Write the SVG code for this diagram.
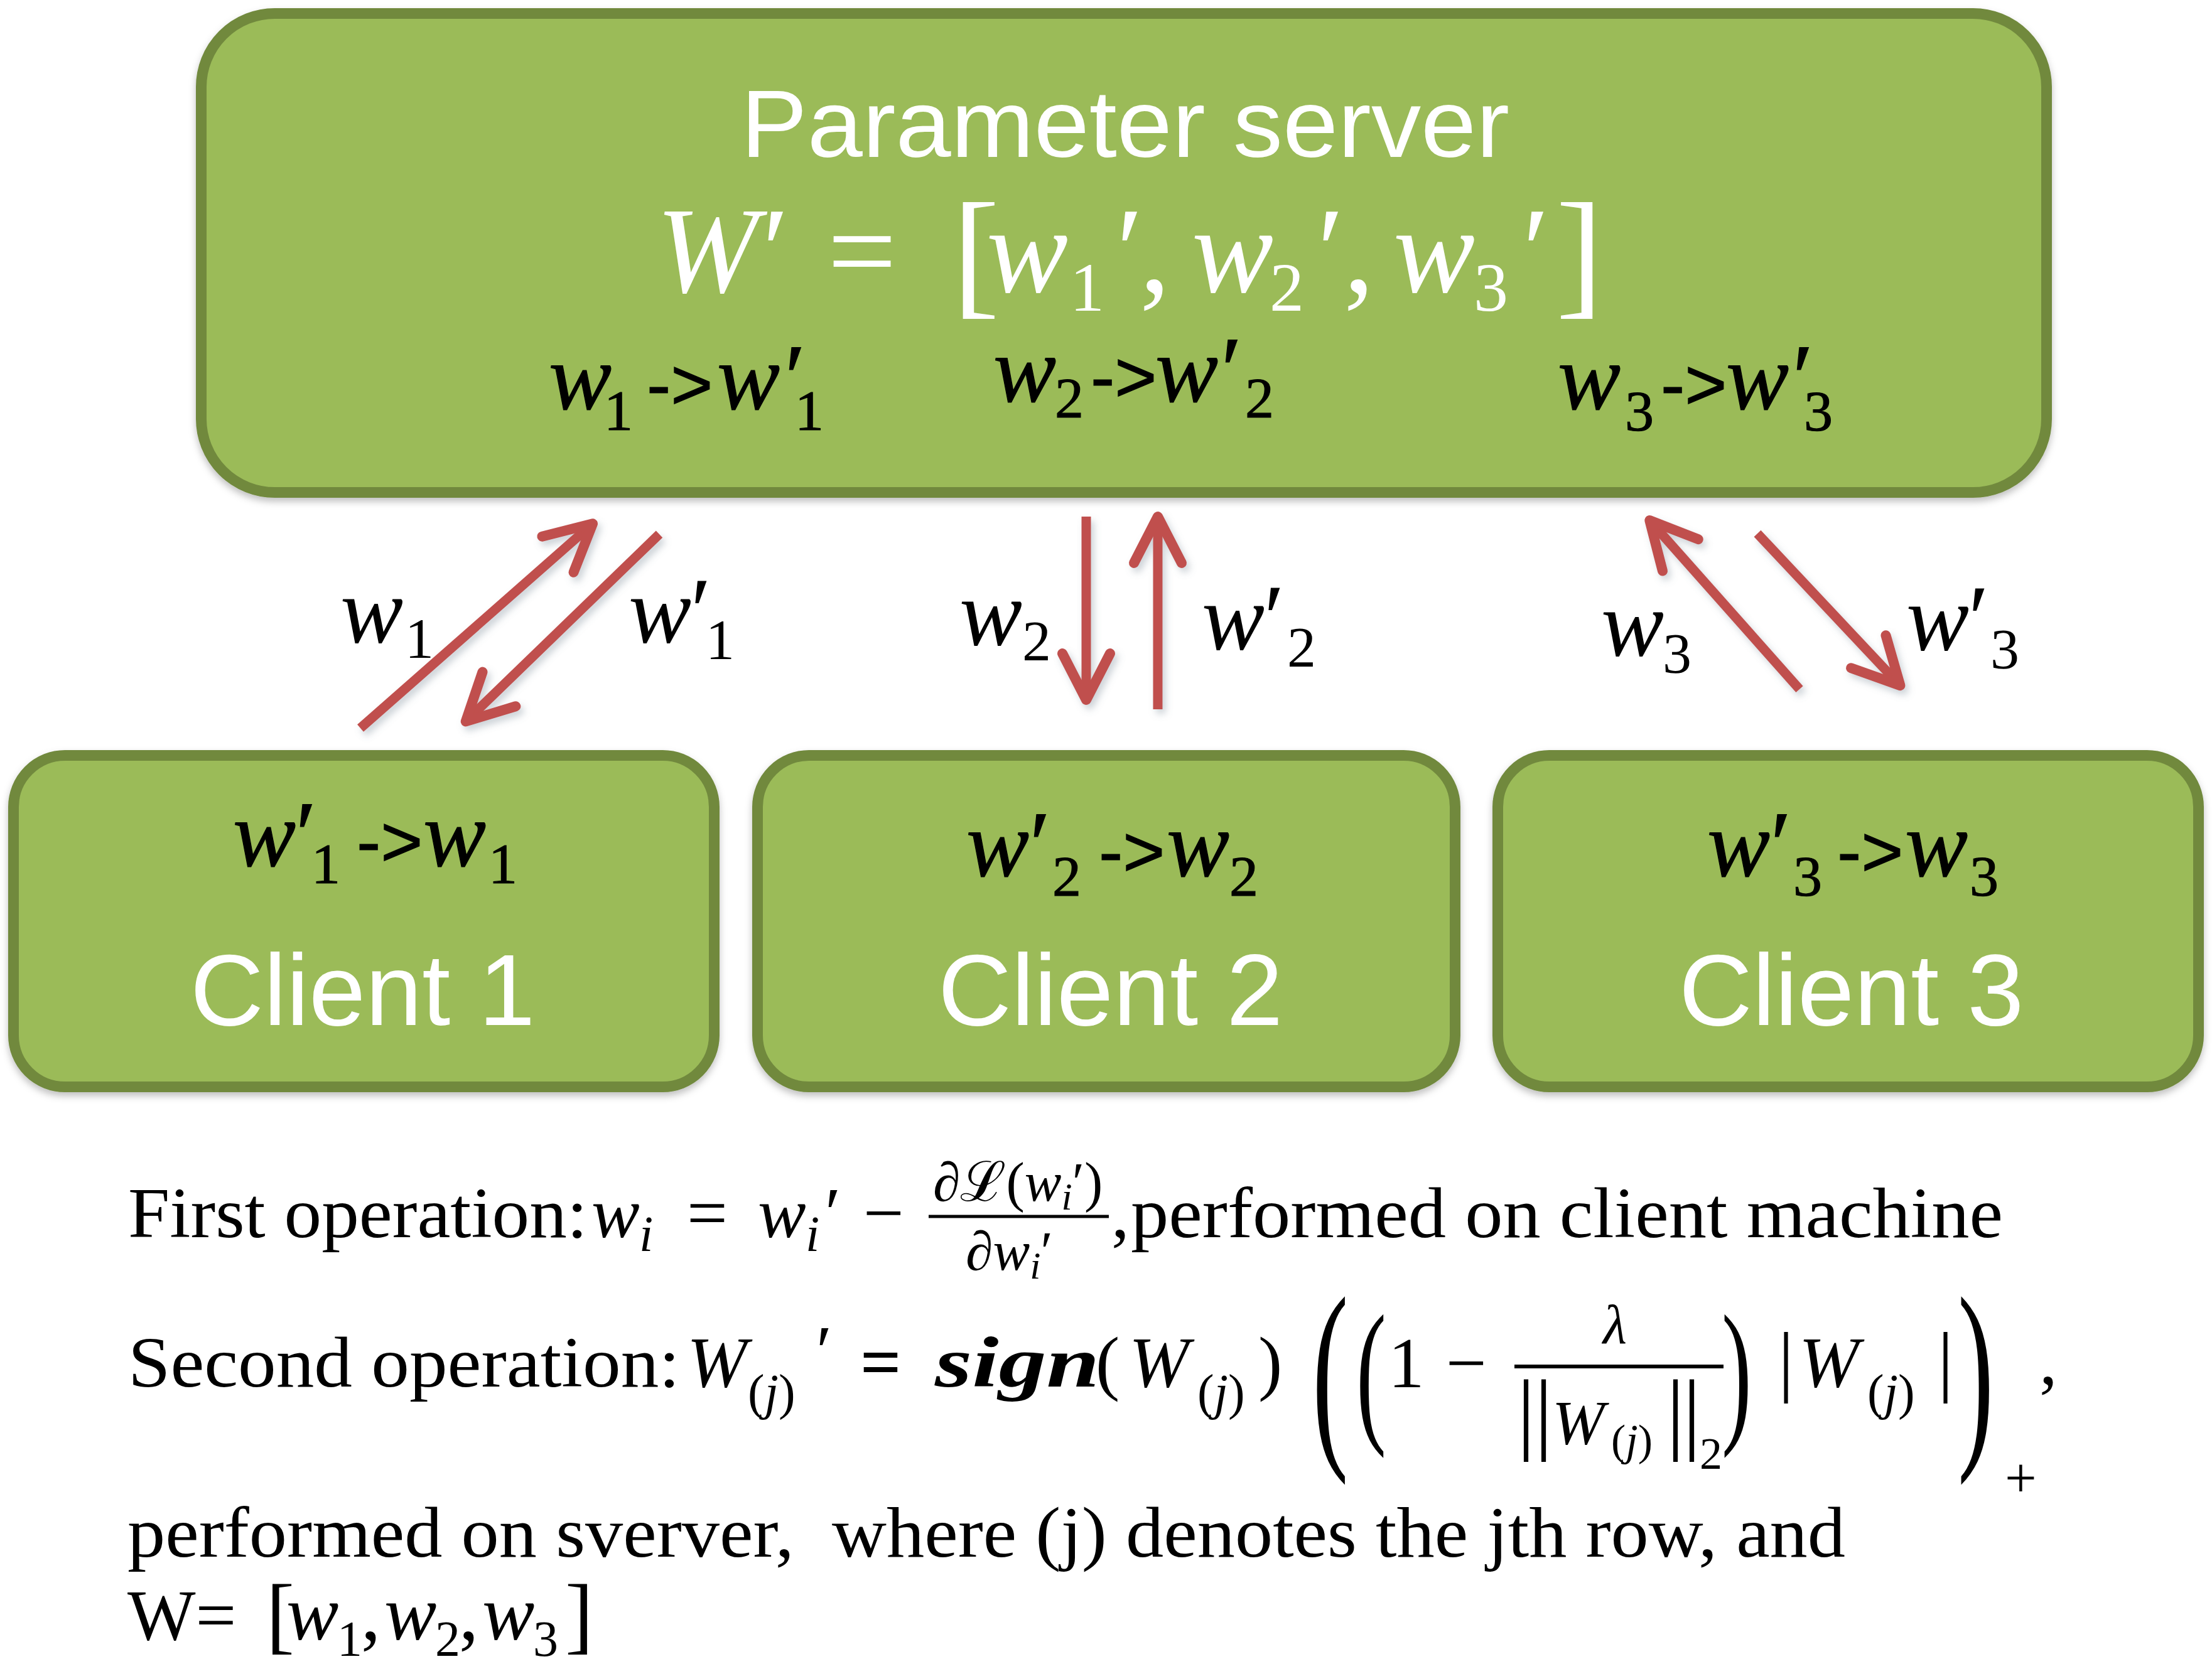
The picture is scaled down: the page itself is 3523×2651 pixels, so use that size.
<svg xmlns="http://www.w3.org/2000/svg" width="3523" height="2651" viewBox="0 0 3523 2651">
<style>
.box{fill:#9bbb59;stroke:#71893e;stroke-width:17}
.ttl{font-family:"Liberation Sans",Arial,sans-serif;fill:#ffffff}
.m{font-family:"Liberation Serif","Times New Roman",serif;font-style:italic}
.r{font-family:"Liberation Serif","Times New Roman",serif;font-style:normal}
.s{font-family:"Liberation Sans",Arial,sans-serif;font-style:normal}
.lbl{fill:#000;stroke:#000;stroke-width:1.2;font-family:"Liberation Serif","Times New Roman",serif}
.al{fill:#000;font-family:"Liberation Serif","Times New Roman",serif}
.wh{fill:#ffffff;font-family:"Liberation Serif","Times New Roman",serif}
.arrow{stroke:#c0504d;stroke-width:15;fill:none;marker-end:url(#ah);filter:url(#sh)}
.txt{font-family:"Liberation Serif","Times New Roman",serif;fill:#000;font-size:115px}
</style>
<defs>
<filter id="sh" filterUnits="userSpaceOnUse" x="0" y="0" width="3523" height="2651">
<feDropShadow dx="5" dy="7" stdDeviation="6" flood-color="#6f7f8f" flood-opacity="0.35"/>
</filter>
<filter id="bsh" x="-5%" y="-5%" width="110%" height="115%">
<feDropShadow dx="0" dy="6" stdDeviation="6" flood-color="#000" flood-opacity="0.25"/>
</filter>
<marker id="ah" markerUnits="userSpaceOnUse" viewBox="-100 -60 120 120" markerWidth="120" markerHeight="120" refX="0" refY="0" orient="auto" overflow="visible">
<path d="M-72,-38 L2,0 L-72,38" fill="none" stroke="#c0504d" stroke-width="16" stroke-linecap="round" stroke-linejoin="round"/>
</marker>
</defs>
<rect width="3523" height="2651" fill="#ffffff"/>

<g id="server">
<rect class="box" x="320.5" y="21.5" width="2939" height="763" rx="117" filter="url(#bsh)"/>
<text class="ttl" x="1180" y="250" font-size="152" textLength="1224" lengthAdjust="spacingAndGlyphs">Parameter server</text>
<text class="wh" font-size="195"><tspan class="m" x="1045" y="465">W</tspan><tspan class="r" x="1214" y="465">′</tspan><tspan class="r" x="1318" y="465">=</tspan><tspan class="r" x="1517" y="478" font-size="225">[</tspan><tspan class="m" x="1571" y="465">w</tspan><tspan class="r" x="1704" y="495" font-size="110">1</tspan><tspan class="r" x="1778" y="465">′</tspan><tspan class="r" x="1815" y="465">,</tspan><tspan class="m" x="1898" y="465">w</tspan><tspan class="r" x="2022" y="495" font-size="110">2</tspan><tspan class="r" x="2098" y="465">′</tspan><tspan class="r" x="2140" y="465">,</tspan><tspan class="m" x="2219" y="465">w</tspan><tspan class="r" x="2347" y="495" font-size="110">3</tspan><tspan class="r" x="2425" y="465">′</tspan><tspan class="r" x="2478" y="478" font-size="225">]</tspan></text>
<text class="lbl" font-size="150"><tspan class="m" x="874" y="652">w</tspan><tspan class="r" x="962" y="685" font-size="92">1</tspan><tspan class="s" x="1030" y="652" font-size="115">-&gt;</tspan><tspan class="m" x="1142" y="652">w</tspan><tspan class="r" x="1250" y="652">′</tspan><tspan class="r" x="1266" y="685" font-size="92">1</tspan></text>
<text class="lbl" font-size="150"><tspan class="m" x="1582" y="640">w</tspan><tspan class="r" x="1680" y="665" font-size="92">2</tspan><tspan class="s" x="1737" y="640" font-size="115">-&gt;</tspan><tspan class="m" x="1840" y="640">w</tspan><tspan class="r" x="1945" y="640">′</tspan><tspan class="r" x="1983" y="665" font-size="92">2</tspan></text>
<text class="lbl" font-size="150"><tspan class="m" x="2481" y="652">w</tspan><tspan class="r" x="2588" y="686" font-size="92">3</tspan><tspan class="s" x="2645" y="652" font-size="115">-&gt;</tspan><tspan class="m" x="2749" y="652">w</tspan><tspan class="r" x="2855" y="652">′</tspan><tspan class="r" x="2873" y="686" font-size="92">3</tspan></text>
</g>

<g id="client1">
<rect class="box" x="21.5" y="1203.5" width="1116" height="528" rx="82" filter="url(#bsh)"/>
<text class="lbl" font-size="150"><tspan class="m" x="371" y="1380">w</tspan><tspan class="r" x="471" y="1380">′</tspan><tspan class="r" x="496" y="1407" font-size="92">1</tspan><tspan class="s" x="568" y="1380" font-size="115">-&gt;</tspan><tspan class="m" x="674" y="1380">w</tspan><tspan class="r" x="778" y="1407" font-size="92">1</tspan></text>
<text class="ttl" x="303" y="1633" font-size="162">Client 1</text>
</g>

<g id="client2">
<rect class="box" x="1206.5" y="1203.5" width="1111" height="528" rx="82" filter="url(#bsh)"/>
<text class="lbl" font-size="150"><tspan class="m" x="1539" y="1396">w</tspan><tspan class="r" x="1640" y="1396">′</tspan><tspan class="r" x="1676" y="1427" font-size="92">2</tspan><tspan class="s" x="1750" y="1396" font-size="115">-&gt;</tspan><tspan class="m" x="1858" y="1396">w</tspan><tspan class="r" x="1958" y="1427" font-size="92">2</tspan></text>
<text class="ttl" x="1494" y="1633" font-size="162">Client 2</text>
</g>

<g id="client3">
<rect class="box" x="2385.5" y="1203.5" width="1116" height="528" rx="82" filter="url(#bsh)"/>
<text class="lbl" font-size="150"><tspan class="m" x="2719" y="1396">w</tspan><tspan class="r" x="2820" y="1396">′</tspan><tspan class="r" x="2856" y="1427" font-size="92">3</tspan><tspan class="s" x="2926" y="1396" font-size="115">-&gt;</tspan><tspan class="m" x="3034" y="1396">w</tspan><tspan class="r" x="3137" y="1427" font-size="92">3</tspan></text>
<text class="ttl" x="2674" y="1633" font-size="162">Client 3</text>
</g>

<g id="connectors">
<line class="arrow" x1="574" y1="1160" x2="942.5" y2="835.6"/>
<line class="arrow" x1="1050" y1="851" x2="743.2" y2="1148"/>
<line class="arrow" x1="1730" y1="823" x2="1730" y2="1113"/>
<line class="arrow" x1="1844" y1="1130" x2="1844" y2="825"/>
<line class="arrow" x1="2866" y1="1098" x2="2628.6" y2="830.5"/>
<line class="arrow" x1="2799" y1="850" x2="3025.1" y2="1090.7"/>
<text class="al" font-size="150"><tspan class="m" x="542" y="1024">w</tspan><tspan class="r" x="645" y="1048" font-size="92">1</tspan></text>
<text class="al" font-size="150"><tspan class="m" x="1001" y="1024">w</tspan><tspan class="r" x="1100" y="1024">′</tspan><tspan class="r" x="1124" y="1050" font-size="92">1</tspan></text>
<text class="al" font-size="150"><tspan class="m" x="1528" y="1028">w</tspan><tspan class="r" x="1628" y="1052" font-size="92">2</tspan></text>
<text class="al" font-size="150"><tspan class="m" x="1914" y="1035">w</tspan><tspan class="r" x="2013" y="1035">′</tspan><tspan class="r" x="2050" y="1062" font-size="92">2</tspan></text>
<text class="al" font-size="150"><tspan class="m" x="2550" y="1045">w</tspan><tspan class="r" x="2648" y="1072" font-size="92">3</tspan></text>
<text class="al" font-size="150"><tspan class="m" x="3036" y="1036">w</tspan><tspan class="r" x="3135" y="1036">′</tspan><tspan class="r" x="3170" y="1065" font-size="92">3</tspan></text>
</g>

<g id="notes" class="txt">
<!-- line 1 -->
<text class="r" x="204" y="1971" textLength="732" lengthAdjust="spacingAndGlyphs">First operation:</text>
<text><tspan class="m" x="942" y="1971">w</tspan><tspan class="m" x="1018" y="1993" font-size="80">i</tspan><tspan class="r" x="1094" y="1971">=</tspan><tspan class="m" x="1207" y="1971">w</tspan><tspan class="m" x="1283" y="1993" font-size="80">i</tspan><tspan class="r" x="1314" y="1971">′</tspan><tspan class="r" x="1375" y="1971">−</tspan></text>
<line x1="1479" y1="1938" x2="1766" y2="1938" stroke="#000" stroke-width="5"/>
<text class="r" x="1486" y="1913" font-size="88">∂ℒ(<tspan class="m">w</tspan><tspan class="m" font-size="62" dy="14">i</tspan><tspan dy="-14">′)</tspan></text>
<text class="r" x="1538" y="2023" font-size="88">∂<tspan class="m">w</tspan><tspan class="m" font-size="62" dy="14">i</tspan><tspan dy="-14">′</tspan></text>
<text class="r" x="1770" y="1971">,</text>
<text class="r" x="1801" y="1971" textLength="1389" lengthAdjust="spacingAndGlyphs">performed on client machine</text>
<!-- line 2 -->
<text class="r" x="204" y="2209" textLength="879" lengthAdjust="spacingAndGlyphs">Second operation:</text>
<text><tspan class="m" x="1094" y="2209">W</tspan><tspan class="r" x="1191" y="2245" font-size="80">(</tspan><tspan class="m" font-size="80">j</tspan><tspan class="r" font-size="80">)</tspan><tspan class="r" x="1300" y="2191">′</tspan></text>
<text class="r" x="1370" y="2209" font-weight="bold">=</text>
<text class="m" x="1489" y="2209" font-weight="bold" textLength="262" lengthAdjust="spacingAndGlyphs">sign</text>
<text><tspan class="r" x="1745" y="2209">(</tspan><tspan class="m" x="1798" y="2209">W</tspan><tspan class="r" x="1907" y="2245" font-size="80">(</tspan><tspan class="m" font-size="80">j</tspan><tspan class="r" font-size="80">)</tspan><tspan class="r" x="2004" y="2209">)</tspan></text>
<text class="r" transform="translate(2090,2295) scale(1.5,2.88)">(</text>
<text class="r" transform="translate(2160,2269) scale(1.25,2.2)">(</text>
<text class="r" x="2211" y="2210">1</text>
<text class="r" x="2303" y="2210">−</text>
<line x1="2412" y1="2177" x2="2745" y2="2177" stroke="#000" stroke-width="6"/>
<text class="m" x="2553" y="2140" font-size="88">λ</text>
<text><tspan class="r" x="2416" y="2298" font-size="145">|</tspan><tspan class="r" x="2444" y="2298" font-size="145">|</tspan><tspan class="m" x="2472" y="2300" font-size="100">W</tspan><tspan class="r" x="2566" y="2318" font-size="70">(</tspan><tspan class="m" font-size="70">j</tspan><tspan class="r" font-size="70">)</tspan><tspan class="r" x="2654" y="2298" font-size="145">|</tspan><tspan class="r" x="2680" y="2298" font-size="145">|</tspan><tspan class="r" x="2707" y="2340" font-size="72">2</tspan></text>
<text class="r" transform="translate(2742,2269) scale(1.25,2.2)">)</text>
<text><tspan class="r" x="2832" y="2209" font-size="125">|</tspan><tspan class="m" x="2865" y="2209">W</tspan><tspan class="r" x="2974" y="2245" font-size="80">(</tspan><tspan class="m" font-size="80">j</tspan><tspan class="r" font-size="80">)</tspan><tspan class="r" x="3086" y="2209" font-size="125">|</tspan></text>
<text class="r" transform="translate(3118,2295) scale(1.5,2.88)">)</text>
<text class="r" x="3193" y="2385" font-size="90">+</text>
<text class="r" x="3248" y="2205">,</text>
<!-- line 3 -->
<text class="r" x="203" y="2480" textLength="2736" lengthAdjust="spacingAndGlyphs" xml:space="preserve">performed on sverver,  where (j) denotes the jth row, and</text>
<!-- line 4 -->
<text class="r" x="203" y="2612">W=</text>
<text><tspan class="r" x="424" y="2618" font-size="135">[</tspan><tspan class="m" x="456" y="2612" font-size="125">w</tspan><tspan class="r" x="537" y="2638" font-size="80">1</tspan><tspan class="r" x="575" y="2612" font-size="125">,</tspan><tspan class="m" x="612" y="2612" font-size="125">w</tspan><tspan class="r" x="693" y="2638" font-size="80">2</tspan><tspan class="r" x="731" y="2612" font-size="125">,</tspan><tspan class="m" x="768" y="2612" font-size="125">w</tspan><tspan class="r" x="849" y="2638" font-size="80">3</tspan><tspan class="r" x="900" y="2618" font-size="135">]</tspan></text>
</g>
</svg>
